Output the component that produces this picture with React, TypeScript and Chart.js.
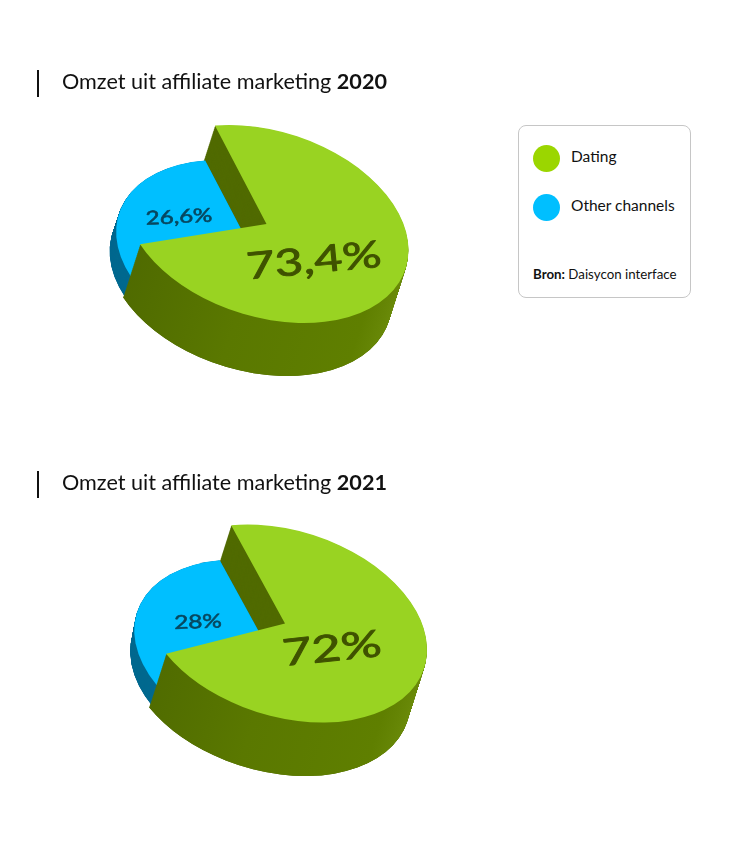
import React, { useEffect, useRef } from "react";
import { Chart, registerables } from "chart.js";

Chart.register(...registerables);

const categories = ["Dating", "Other channels"];
const values2020 = [73.4, 26.6];
const values2021 = [72, 28];
const labels2020 = ["73,4%", "26,6%"];
const labels2021 = ["72%", "28%"];
const legendColors = ["#9bd600", "#00bfff"];

const FONT = "Lato, sans-serif";

type PieCfg = {
  top: number;
  height: number;
  values: number[];
  labels: string[];
  rotation: number;
  cx: number;
  cy: number;
  wall: [number, number];
  blueLift: [number, number];
  blueScale: number;
  text: { x: number; y: number; size: number; angle: number; sx: number; color: string; stroke: number }[];
};

const pies: PieCfg[] = [
  {
    top: 0, height: 430, values: values2020, labels: labels2020, rotation: -21.3,
    cx: 266.5, cy: 224, wall: [-17, 53], blueLift: [-10.5, 33.5], blueScale: 0.985,
    text: [
      { x: 314, y: 261, size: 37, angle: -5.5, sx: 1.32, color: "#3f5200", stroke: 0.9 },
      { x: 179, y: 217, size: 19, angle: -3, sx: 1.27, color: "#07475f", stroke: 0.6 },
    ],
  },
  {
    top: 430, height: 433, values: values2021, labels: labels2021, rotation: -22.3,
    cx: 285, cy: 193.5, wall: [-17, 53.5], blueLift: [-13, 32], blueScale: 0.97,
    text: [
      { x: 332, y: 219, size: 37, angle: -6, sx: 1.37, color: "#3f5200", stroke: 0.9 },
      { x: 198, y: 192, size: 19, angle: -2, sx: 1.28, color: "#07475f", stroke: 0.6 },
    ],
  },
];

const HALF_W = 142;
const SKEW = 26;
const HALF_H = 95.5;

function PieChart({ cfg }: { cfg: PieCfg }) {
  const ref = useRef<HTMLCanvasElement | null>(null);
  useEffect(() => {
    const plugin = {
      id: "tiltedPie",
      beforeDatasetDraw(chart: any) {
        const ctx = chart.ctx as CanvasRenderingContext2D;
        const [green, blue] = chart.getDatasetMeta(0).data as any[];
        const R = green.outerRadius;
        const paint = (el: any, color: any, dx: number, dy: number, k = 1) => {
          ctx.save();
          ctx.translate(cfg.cx + dx, cfg.cy + dy);
          ctx.transform((HALF_W / R) * k, (SKEW / R) * k, 0, (HALF_H / R) * k, 0, 0);
          ctx.translate(-el.x, -el.y);
          const prev = el.options;
          el.options = { ...prev, backgroundColor: color, borderWidth: 0 };
          el.draw(ctx);
          el.options = prev;
          ctx.restore();
        };
        const N = 80;
        const [wx, wy] = cfg.wall;
        const [bx, by] = cfg.blueLift;
        // inner wall of the green wedge, seen through the gap
        for (let i = N; i > 0; i--) {
          const t = i / N;
          paint(green, "#506a00", wx * t, wy * t);
        }
        // blue wedge: sits lower and covers the bottom of the inner wall
        for (let i = N; i > 0; i--) {
          const t = i / N;
          paint(blue, "#00698f", bx + (wx - bx) * t, by + (wy - by) * t, cfg.blueScale);
        }
        paint(blue, "#00bfff", bx, by, cfg.blueScale);
        // outer wall of the green wedge, in front of the blue one
        const cornerY = cfg.cy + SKEW * Math.cos(green.endAngle) + HALF_H * Math.sin(green.endAngle);
        const grad = ctx.createLinearGradient(green.x - R, 0, green.x + R, 0);
        grad.addColorStop(0, "#4e6900");
        grad.addColorStop(0.4, "#5a7800");
        grad.addColorStop(0.85, "#5f7f00");
        grad.addColorStop(1, "#6b8b0a");
        ctx.save();
        ctx.beginPath();
        ctx.rect(0, cornerY, chart.width, chart.height - cornerY);
        ctx.clip();
        for (let i = N; i > 0; i--) {
          const t = i / N;
          paint(green, grad, wx * t, wy * t);
        }
        ctx.restore();
        paint(green, "#99d322", 0, 0);
        // labels
        cfg.text.forEach((t, i) => {
          ctx.save();
          ctx.translate(t.x, t.y);
          ctx.rotate((t.angle * Math.PI) / 180);
          ctx.scale(t.sx, 1);
          ctx.font = `${t.size}px ${FONT}`;
          ctx.textAlign = "center";
          ctx.textBaseline = "middle";
          ctx.fillStyle = t.color;
          ctx.strokeStyle = t.color;
          ctx.lineWidth = t.stroke;
          ctx.lineJoin = "round";
          ctx.fillText(cfg.labels[i], 0, 0);
          ctx.strokeText(cfg.labels[i], 0, 0);
          ctx.restore();
        });
        return false;
      },
    };
    const chart = new Chart(ref.current as HTMLCanvasElement, {
      type: "pie",
      data: {
        labels: categories,
        datasets: [{ data: cfg.values, backgroundColor: ["#99d322", "#00bfff"], borderWidth: 0 }],
      },
      options: {
        animation: false,
        responsive: false,
        rotation: cfg.rotation,
        plugins: { legend: { display: false }, tooltip: { enabled: false } },
      },
      plugins: [plugin],
    } as any);
    return () => chart.destroy();
  }, [cfg]);
  return (
    <canvas
      ref={ref}
      width={730}
      height={cfg.height}
      style={{ position: "absolute", left: 0, top: cfg.top, width: 730, height: cfg.height }}
    />
  );
}

function Title({ top, year }: { top: number; year: string }) {
  return (
    <>
      <div style={{ position: "absolute", left: 37, top, width: 2, height: 27, background: "#111" }} />
      <div
        style={{
          position: "absolute", left: 62, top: top - 2, height: 27, lineHeight: "27px",
          fontFamily: FONT, fontWeight: 400, fontSize: 21.6, color: "#111", whiteSpace: "nowrap",
        }}
      >
        Omzet uit affiliate marketing <span style={{ fontWeight: 700 }}>{year}</span>
      </div>
    </>
  );
}

export default function App() {
  return (
    <div style={{ position: "absolute", left: 0, top: 0, width: 730, height: 863, background: "#fff", overflow: "hidden" }}>
      {pies.map((p) => <PieChart key={p.top} cfg={p} />)}
      <Title top={70} year="2020" />
      <Title top={471} year="2021" />
      <div
        style={{
          position: "absolute", left: 518, top: 125, width: 171, height: 171,
          border: "1px solid #c6c6c6", borderRadius: 8, background: "#fff",
        }}
      />
      {categories.map((c, i) => (
        <React.Fragment key={c}>
          <div
            style={{
              position: "absolute", left: 533, top: 145 + i * 48.5, width: 27, height: 27,
              borderRadius: "50%", background: legendColors[i],
            }}
          />
          <div
            style={{
              position: "absolute", left: 571, top: 146 + i * 48.5, height: 20, lineHeight: "20px",
              fontFamily: FONT, fontSize: 15.5, color: "#111", whiteSpace: "nowrap",
            }}
          >
            {c}
          </div>
        </React.Fragment>
      ))}
      <div
        style={{
          position: "absolute", left: 533, top: 266, height: 16, lineHeight: "16px",
          fontFamily: FONT, fontSize: 13.3, color: "#111", whiteSpace: "nowrap",
        }}
      >
        <span style={{ fontWeight: 700 }}>Bron:</span> Daisycon interface
      </div>
    </div>
  );
}
